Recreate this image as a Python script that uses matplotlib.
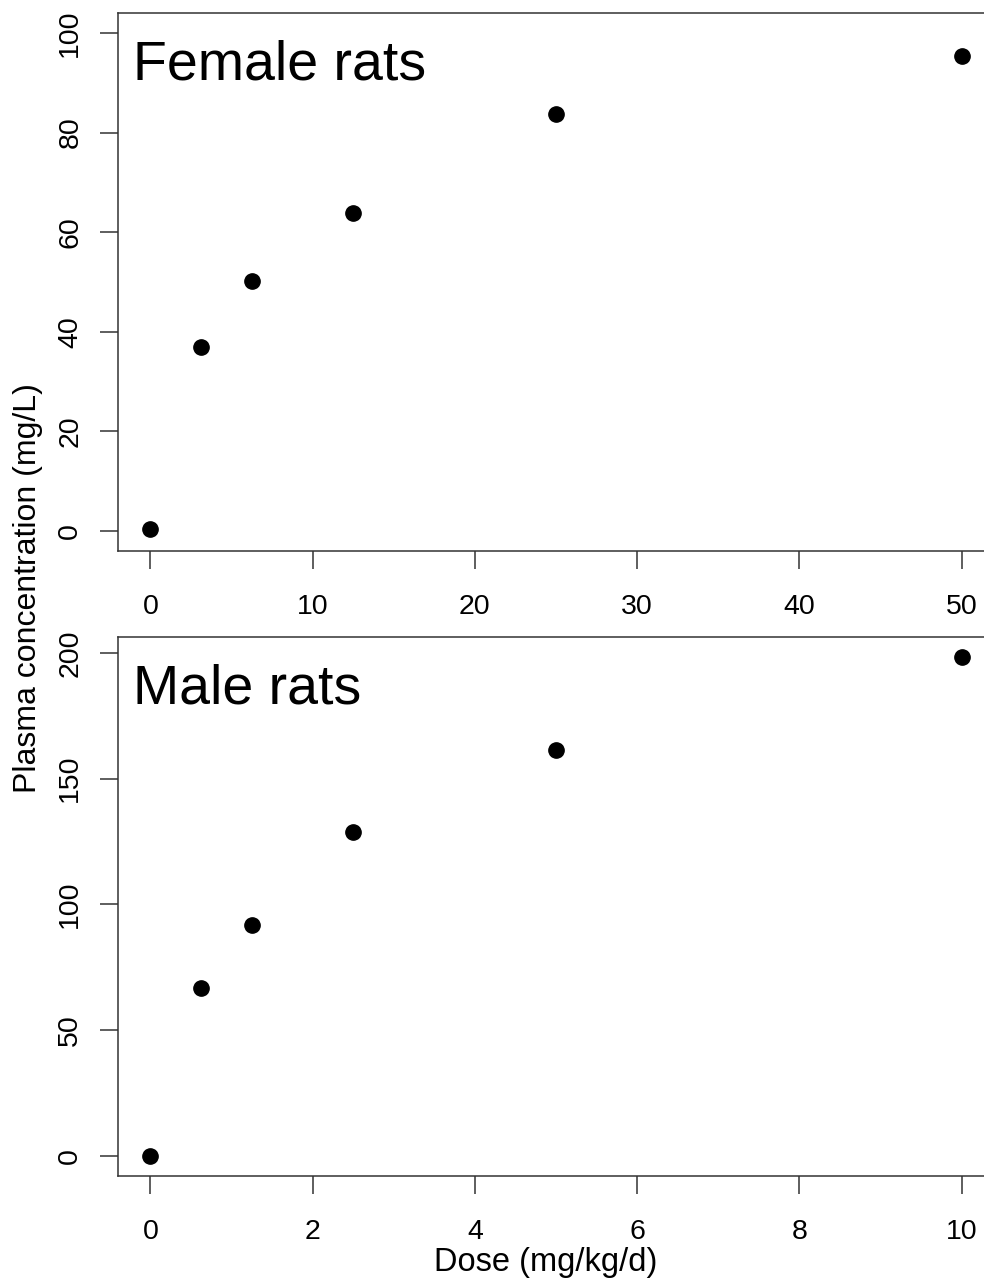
import matplotlib
matplotlib.use("Agg")
import matplotlib.pyplot as plt

plt.rcParams['font.family'] = ['Liberation Sans', 'DejaVu Sans']

# Data
female_dose = [0, 3.125, 6.25, 12.5, 25, 50]
female_conc = [0.4, 36.9, 50.2, 63.9, 83.7, 95.4]
male_dose = [0, 0.625, 1.25, 2.5, 5, 10]
male_conc = [0, 66.8, 91.8, 128.8, 161.4, 198.4]

female_ticks_x = [0, 10, 20, 30, 40, 50]
female_ticks_y = [0, 20, 40, 60, 80, 100]
male_ticks_x = [0, 2, 4, 6, 8, 10]
male_ticks_y = [0, 50, 100, 150, 200]

W, H = 984, 1280
fig = plt.figure(figsize=(W / 100, H / 100), dpi=100)


def panel(box, x, y, xlim, ylim, xt, yt, title):
    left, top, right, bottom = box
    ax = fig.add_axes([left / W, 1 - bottom / H, (right - left) / W, (bottom - top) / H])
    ax.plot(x, y, 'o', color='black', markersize=11)
    # R style 4% extension of the axis limits
    dx = (xlim[1] - xlim[0]) * 0.04
    dy = (ylim[1] - ylim[0]) * 0.04
    ax.set_xlim(xlim[0] - dx, xlim[1] + dx)
    ax.set_ylim(ylim[0] - dy, ylim[1] + dy)
    ax.set_xticks(xt)
    ax.set_yticks(yt)
    ax.tick_params(direction='out', length=13, width=1.1, labelsize=20.5, pad=12,
                   color='#333333')
    ax.tick_params(axis='x', pad=18)
    for lab in ax.get_yticklabels():
        lab.set_rotation(90)
        lab.set_va('center')
    for s in ax.spines.values():
        s.set_linewidth(1.1)
        s.set_color('#333333')
    ax.annotate(title, xy=(0, 1), xycoords='axes fraction', xytext=(11, -48),
                textcoords='offset points', fontsize=40, va='baseline', ha='left')
    return ax


panel((118, 13, 994, 551), female_dose, female_conc, (0, 50), (0, 100),
      female_ticks_x, female_ticks_y, 'Female rats')
panel((118, 637, 994, 1176), male_dose, male_conc, (0, 10), (0, max(male_conc)),
      male_ticks_x, male_ticks_y, 'Male rats')

fig.text(28 / W, 1 - 588 / H, 'Plasma concentration (mg/L)', rotation=90,
         ha='center', va='center', fontsize=23)
fig.text(546 / W, 1 - 1263 / H, 'Dose (mg/kg/d)', ha='center', va='center',
         fontsize=23.5)

fig.savefig('out.png', dpi=100)
